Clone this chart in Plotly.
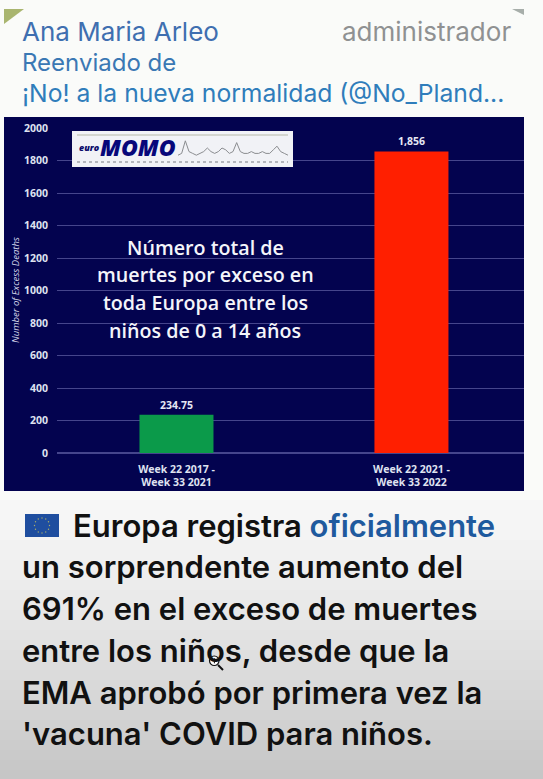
import plotly.graph_objects as go
import math

# Chart data
periods = ["Week 22 2017 -<br>Week 33 2021", "Week 22 2021 -<br>Week 33 2022"]
excess_deaths = [234.75, 1856]
value_labels = ["234.75", "1,856"]
bar_colors = ["#0b9a4a", "#ff1f00"]
y_ticks = [0, 200, 400, 600, 800, 1000, 1200, 1400, 1600, 1800, 2000]

# Logo sparkline, weekly index
spark_values = [1, 2, 9, 3, 2, 1, 2, 3, 5, 3, 2, 3, 5, 4, 2, 3, 8, 3, 2, 2, 3, 2, 2, 3, 2, 2, 4, 6, 3, 2, 1]

# Panel caption, one entry per line
caption_lines = ["Número total de", "muertes por exceso en", "toda Europa entre los", "niños de 0 a 14 años"]
caption_rows = [247, 274, 302, 330]

# Message text below the chart
body_lines = ["un sorprendente aumento del", "691% en el exceso de muertes", "entre los niños, desde que la",
              "EMA aprobó por primera vez la", "'vacuna' COVID para niños."]
body_rows = [566, 608, 650, 692, 733]

W, H = 543, 779


def px(x):
    return x / W


def py(y):
    return 1 - y / H


def rect(x0, y0, x1, y1, fill, line=None):
    return dict(type="rect", xref="paper", yref="paper", x0=px(x0), x1=px(x1), y0=py(y0), y1=py(y1),
                fillcolor=fill, line=dict(width=1 if line else 0, color=line or fill), layer="below")


def note(x, y, text, size, color, anchor="left", family="Inter", weight=400, **kw):
    return dict(xref="paper", yref="paper", x=px(x), y=py(y), text=text, showarrow=False, xanchor=anchor,
                yanchor="middle", align=kw.pop("align", anchor), font=dict(size=size, color=color, family=family, weight=weight), **kw)


fig = go.Figure()
fig.add_trace(go.Bar(
    x=[0, 1], y=excess_deaths, width=0.315, marker=dict(color=bar_colors, line=dict(width=0)),
    text=value_labels, textposition="outside", cliponaxis=False,
    textfont=dict(size=10.5, color="#e6e8f5", family="Open Sans", weight=700), hoverinfo="skip",
))

shapes = [rect(0, 0, 543, 779, "#fafbf9")]
# page fades to grey towards the bottom edge
for i in range(28):
    y0 = 500 + i * 10
    t = (i + 1) / 28
    v = int(248 - 50 * t ** 1.3)
    shapes.append(rect(0, y0, 543, y0 + 10.5, f"rgb({v},{v},{v})"))
shapes += [
    rect(4, 117, 524, 491, "#03034f"),
    # bubble corners
    dict(type="path", xref="paper", yref="paper",
         path=f"M {px(4)} {py(9)} L {px(24)} {py(9)} L {px(4)} {py(24)} Z", fillcolor="#a9b56f", line=dict(width=0)),
    dict(type="path", xref="paper", yref="paper",
         path=f"M {px(512)} {py(9)} L {px(524)} {py(9)} L {px(524)} {py(15)} Z", fillcolor="#a7aeaa", line=dict(width=0)),
    # euroMOMO logo plate
    dict(rect(72, 131, 293, 167, "#f1f2f6"), layer="above"),
    dict(type="line", xref="paper", yref="paper", x0=px(77), x1=px(288), y0=py(135), y1=py(135),
         line=dict(color="#b5b8a8", width=1)),
    dict(type="line", xref="paper", yref="paper", x0=px(77), x1=px(288), y0=py(162), y1=py(162),
         line=dict(color="#b4b6bc", width=2, dash="dot")),
    # EU flag
    dict(rect(25, 514, 59, 537, "#1f4e9f"), layer="above"),
    # pointer magnifier
    dict(type="circle", xref="paper", yref="paper", x0=px(209.5), x1=px(219), y0=py(665.5), y1=py(656),
         fillcolor="#ffffff", line=dict(color="#111111", width=1.2)),
    dict(type="line", xref="paper", yref="paper", x0=px(218), x1=px(223), y0=py(665), y1=py(670),
         line=dict(color="#111111", width=2)),
    dict(type="line", xref="paper", yref="paper", x0=px(212), x1=px(217), y0=py(660.7), y1=py(660.7),
         line=dict(color="#111111", width=1)),
    dict(type="line", xref="paper", yref="paper", x0=px(214.4), x1=px(214.4), y0=py(658.3), y1=py(663.3),
         line=dict(color="#111111", width=1)),
]

# Sparkline inside the logo plate
spark_step = (288 - 178) / (len(spark_values) - 1)
spark_pts = [(px(178 + i * spark_step), py(157 - v * 1.8)) for i, v in enumerate(spark_values)]
spark_path = "M " + " L ".join(f"{a} {b}" for a, b in spark_pts)
shapes.append(dict(type="path", xref="paper", yref="paper", path=spark_path, line=dict(color="#8b8d90", width=1)))

flag_cx, flag_cy = 42, 525.5
for k in range(12):
    a = k * math.pi / 6
    cx, cy = flag_cx + 7.5 * math.cos(a), flag_cy + 7.5 * math.sin(a)
    shapes.append(dict(type="circle", xref="paper", yref="paper", x0=px(cx - .7), x1=px(cx + .7),
                       y0=py(cy + .7), y1=py(cy - .7), fillcolor="#a9ad6a", line=dict(width=0)))

body = "#111111"
annotations = [
    note(20, 31, "Ana Maria Arleo", 26, "#3f6fb0"),
    note(513, 31, "administrador", 26, "#8f9192", anchor="right"),
    note(20, 63, "Reenviado de", 24, "#3a78b4"),
    note(20, 93, "¡No! a la nueva normalidad (@No_Pland...", 24.7, "#2f7dbb"),
    note(16, 290, "<i>Number of Excess Deaths</i>", 9.5, "#d5d8ea", anchor="center", family="Open Sans", textangle=-90),
    note(77, 147, "<i>euro</i>", 9, "#0a0a6a", family="Open Sans", weight=800),
    note(98, 147, "<i>MOMO</i>", 23, "#07077a", family="Open Sans", weight=800),
    note(71, 525, "Europa registra <span style='color:#1f5a9e'>oficialmente</span>", 31, body, weight=600),
]
annotations += [note(205, r, t, 19.7, "#f4f5fa", anchor="center", family="Open Sans", weight=600)
                for t, r in zip(caption_lines, caption_rows)]
annotations += [note(20, r, t, 31, body, weight=600) for t, r in zip(body_lines, body_rows)]

fig.update_layout(
    width=W, height=H, autosize=False, showlegend=False,
    margin=dict(l=0, r=0, t=0, b=0, pad=0, autoexpand=False),
    paper_bgcolor="#fafbf9", plot_bgcolor="rgba(0,0,0,0)",
    shapes=shapes, annotations=annotations,
    xaxis=dict(domain=[px(57), px(524)], range=[-0.5085, 1.479], tickvals=[0, 1], ticktext=periods, showgrid=False,
               zeroline=False, showline=False, ticks="", ticklabelstandoff=8,
               tickfont=dict(size=10.5, color="#dfe2f0", family="Open Sans", weight=700)),
    yaxis=dict(domain=[py(453), py(128)], range=[0, 2000], tickvals=y_ticks, gridcolor="#45458c", gridwidth=1,
               zeroline=True, zerolinecolor="#45458c", showline=False, ticks="", ticklabelstandoff=8,
               tickfont=dict(size=10.5, color="#dfe2f0", family="Open Sans", weight=700)),
)
fig.write_html("out.html", config=dict(displayModeBar=False))
